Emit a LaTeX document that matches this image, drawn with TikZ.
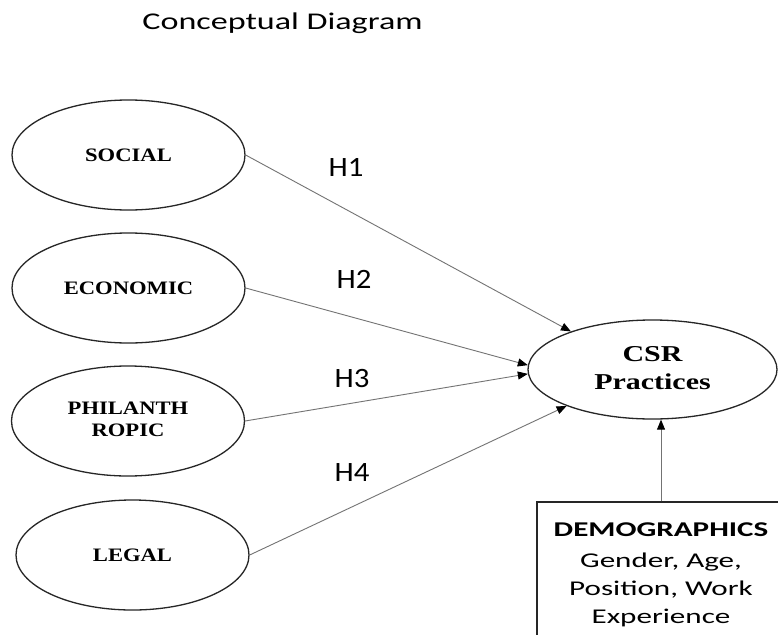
\documentclass[tikz,border=0pt]{standalone}
\usepackage{graphicx}
\usepackage{fontspec}
\setmainfont{Liberation Serif}
\newfontfamily\calfont{Carlito}
\usetikzlibrary{shapes.geometric,arrows.meta}
\newcommand\sx[2]{\scalebox{#1}[1]{#2}}
\begin{document}
\begin{tikzpicture}[x=1pt,y=-1pt,
  oval/.style={ellipse,draw=black!85,line width=1.3pt,minimum width=233pt,minimum height=110pt,inner sep=0pt,font=\fontsize{19}{22}\selectfont\bfseries},
  link/.style={draw=black!55,line width=0.9pt,-{Triangle[length=10pt,width=8pt,color=black]}},
  hlab/.style={anchor=base,font=\calfont\fontsize{28}{30}\selectfont},
]
\clip (0,0) rectangle (778,634);
\fill[white] (0,0) rectangle (778,634);

\node[anchor=base,font=\calfont\fontsize{24}{28}\selectfont] (title) at (282.5,30) {\sx{1.42}{Conceptual Diagram}};

\node[oval] (social) at (128.5,155) {\sx{1.19}{SOCIAL}};
\node[oval] (econ) at (128.5,288) {\sx{1.19}{ECONOMIC}};
\node[oval] (phil) at (128,421) {\sx{1.19}{\begin{tabular}{@{}c@{}}PHILANTH\\ROPIC\end{tabular}}};
\node[oval] (legal) at (132.5,555) {\sx{1.19}{LEGAL}};

\node[oval,minimum width=249pt,minimum height=99pt,font=\fontsize{22.7}{28}\selectfont\bfseries] (csr) at (652.5,369.5) {\sx{1.32}{\begin{tabular}{@{}c@{}}CSR\\Practices\end{tabular}}};

\node[draw=black!85,line width=1.3pt,minimum width=248pt,minimum height=144pt,inner sep=0pt,font=\calfont\fontsize{21}{28}\selectfont] (demo) at (661,574) {\sx{1.48}{\begin{tabular}{@{}c@{}}\bfseries DEMOGRAPHICS\\[3pt]Gender, Age,\\Position, Work\\Experience\end{tabular}}};

\node[hlab] (h1) at (346,176) {\sx{1.1}{H1}};
\node[hlab] (h2) at (354,288) {\sx{1.1}{H2}};
\node[hlab] (h3) at (352,387) {\sx{1.1}{H3}};
\node[hlab] (h4) at (352,481) {\sx{1.1}{H4}};

\draw[link] (social.east) -- (csr.155);
\draw[link] (econ.east) -- (csr.178);
\draw[link] (phil.east) -- (csr.182);
\draw[link] (legal.east) -- (csr.203);
\draw[link] (demo.north) -- (demo.north |- csr.south);
\end{tikzpicture}
\end{document}
